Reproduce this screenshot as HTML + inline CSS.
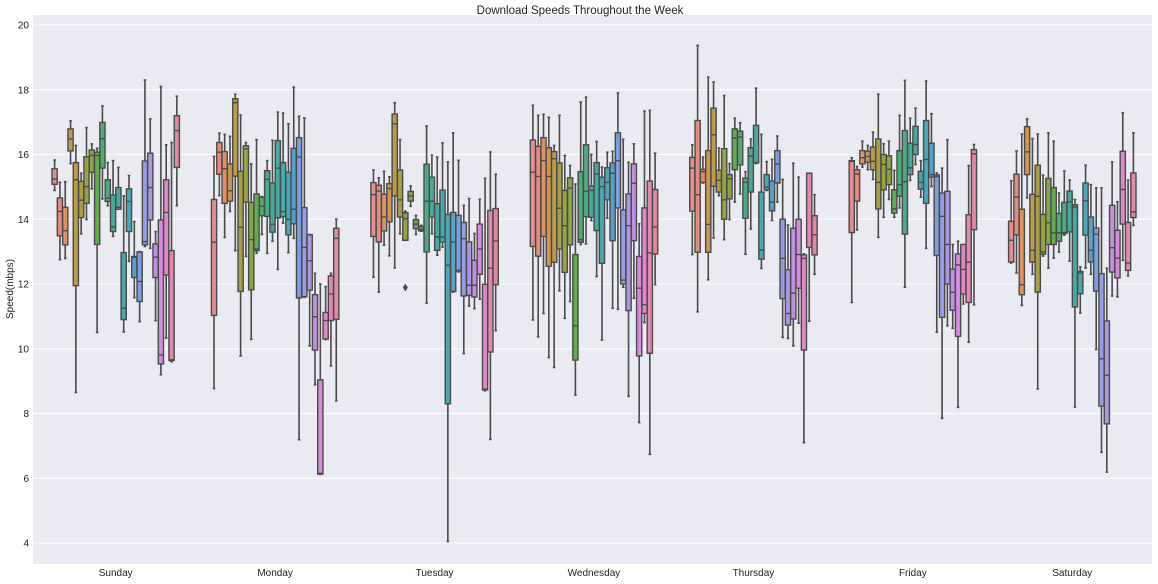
<!DOCTYPE html>
<html><head><meta charset="utf-8"><style>
body{margin:0;background:#fff;}
svg{display:block;font-family:"Liberation Sans",sans-serif;}
</style></head><body>
<svg id="chart" width="1158" height="584" viewBox="0 0 1158 584">
<rect x="33" y="15" width="1119" height="549" fill="#eaeaf2"/>
<g id="grid"></g><g id="boxes"></g><g id="axes"></g>
<text x="580" y="14" text-anchor="middle" font-size="11.5" fill="#222">Download Speeds Throughout the Week</text>
<text transform="translate(13,289) rotate(-90)" text-anchor="middle" font-size="10" fill="#222">Speed(mbps)</text>
</svg>
<script>
const days=["Sunday","Monday","Tuesday","Wednesday","Thursday","Friday","Saturday"];
const yTicks=[4,6,8,10,12,14,16,18,20];
// per day, per hour (24): lower whisker, q1, median, q3, upper whisker
const wlo=[
[14.89,12.75,12.79,15.72,8.65,13.55,13.99,14.94,10.5,14.63,14.42,13.47,14.31,10.52,12.7,11.58,10.84,13.16,13.1,10.87,9.2,10.33,9.6,14.42],
[8.77,14.73,13.44,14.24,13.03,9.78,12.85,10.29,12.95,13.53,12.95,13.32,12.45,13.88,12.97,13.41,7.19,11.59,10.09,8.89,6.12,10.28,9.47,8.39],
[12.21,11.75,13.2,12.87,12.5,13.55,13.35,14.4,13.53,13.63,11.41,13.55,12.89,13.14,4.05,11.75,12.37,9.85,11.32,11.24,11.53,8.7,7.2,10.56],
[10.89,10.37,11.09,9.73,9.42,11.79,10.94,11.46,8.57,13.22,13.24,13.96,12.23,10.27,14.03,11.25,11.22,11.9,8.53,11.56,7.72,10.81,6.74,11.98],
[12.91,11.14,15.12,12.13,13.42,14.73,13.37,13.99,14.53,14.78,12.92,13.7,15.72,12.48,14.89,13.96,14.53,10.35,10.32,10.09,10.79,7.1,10.85,12.3],
[11.43,13.67,15.61,15.53,15.23,13.44,14.06,14.61,14.06,14.35,11.9,15.2,15.69,14.68,13.1,15.01,10.51,7.85,10.71,10.63,8.19,11.38,10.2,11.36],
[12.65,12.34,11.34,14.66,12.3,8.76,12.86,12.49,12.8,12.99,13.51,12.71,8.2,11.1,12.49,12.3,9.98,6.8,6.19,11.63,11.6,12.73,12.25,13.81]];
const q1=[
[15.08,13.49,13.21,16.11,11.95,14.05,14.49,15.45,13.22,15.58,14.55,13.62,14.31,10.9,13.62,12.2,11.46,13.21,13.98,12.2,9.53,12.28,9.64,15.6],
[11.03,15.39,14.49,14.56,15.33,11.77,14.53,11.82,13.03,14.11,14.09,13.6,14.04,14.08,13.52,13.86,11.57,11.61,11.81,9.96,6.13,10.3,10.87,10.91],
[13.47,13.3,13.64,13.92,14.72,14.07,13.35,14.56,13.71,13.64,12.99,14.07,13.04,13.3,8.3,11.77,12.4,11.63,11.65,11.6,12.3,8.73,9.9,11.98],
[13.16,12.86,13.47,12.55,12.67,13.08,12.36,13.21,9.65,13.29,14.08,14.06,13.65,12.64,14.6,13.34,14.35,12.0,11.18,13.34,9.78,11.09,9.86,12.93],
[14.25,12.98,15.14,12.98,15.02,14.84,14.0,14.63,15.53,15.68,14.03,14.84,15.74,12.77,14.91,14.26,15.12,11.55,10.73,10.92,11.87,9.96,13.13,12.9],
[13.59,14.56,15.71,15.76,15.53,14.32,14.91,15.07,14.19,14.71,13.54,15.38,16.0,14.93,14.49,15.3,12.88,10.97,12.0,11.19,10.38,11.69,11.43,13.68],
[12.68,13.52,11.67,15.38,12.68,11.75,12.92,13.22,13.22,13.32,13.56,13.61,11.29,11.7,13.51,12.68,11.78,8.23,7.68,12.37,12.19,13.85,12.42,14.05]];
const med=[
[15.24,14.24,13.65,16.48,15.22,14.59,15.01,15.97,15.97,16.49,14.65,13.76,14.37,11.25,14.55,12.83,12.08,13.31,14.98,12.83,9.81,14.21,9.66,16.74],
[13.29,16.07,15.56,14.88,17.6,13.75,16.17,13.37,13.08,14.4,15.23,13.84,15.58,14.24,14.0,14.31,15.92,13.13,12.72,10.99,6.15,10.87,11.69,13.41],
[14.76,14.87,14.07,14.95,16.95,14.6,14.02,14.72,13.85,13.69,14.56,14.56,13.45,13.45,12.58,13.3,12.42,13.4,11.96,11.96,13.08,8.75,12.49,13.33],
[15.45,15.32,15.81,15.32,15.87,14.34,13.8,14.96,10.71,13.37,14.86,14.89,15.4,15.01,15.14,15.42,15.81,12.12,13.8,15.11,11.87,11.36,12.96,13.76],
[15.58,14.76,15.47,13.84,16.61,15.2,14.6,15.25,16.51,16.54,15.14,15.95,15.75,13.05,14.99,14.53,15.71,12.79,11.09,11.72,12.91,12.79,15.42,13.52],
[15.79,15.4,15.9,15.94,15.79,15.14,15.69,15.54,14.32,15.07,15.16,15.59,16.31,15.14,15.85,15.38,15.32,14.09,13.22,11.74,12.59,12.45,12.67,16.02],
[13.35,14.69,11.98,16.08,13.04,14.71,12.99,13.89,13.58,13.58,13.59,14.54,14.38,12.34,14.57,13.04,13.54,9.69,9.18,13.12,12.8,14.92,12.65,14.23]];
const q3=[
[15.56,14.66,14.37,16.79,15.75,15.17,15.93,16.14,16.07,16.99,15.22,14.75,14.98,12.97,14.94,12.85,12.99,15.8,16.04,13.24,13.98,15.22,13.03,17.2],
[14.61,16.37,16.09,15.71,17.72,15.48,16.27,14.52,14.78,14.68,15.5,15.12,16.43,15.75,15.45,16.19,16.52,14.36,13.52,11.67,9.04,11.12,12.25,13.72],
[15.13,15.05,14.77,15.1,17.25,15.52,14.2,14.86,13.99,13.78,15.7,15.3,14.48,14.9,14.15,14.21,14.12,13.9,13.3,12.73,13.85,11.99,14.27,14.33],
[16.45,16.25,16.52,16.21,16.09,15.74,14.89,15.28,12.91,15.47,16.3,15.03,15.75,15.3,15.59,15.74,16.67,14.29,14.78,15.71,12.85,14.35,15.18,14.92],
[15.91,17.05,15.54,16.12,17.43,15.51,16.18,15.38,16.79,16.72,15.27,16.21,16.9,14.84,15.38,15.18,16.12,14.0,12.44,13.72,14.0,12.9,15.42,14.11],
[15.81,15.53,16.12,16.1,16.23,16.48,16.0,15.96,14.91,16.12,16.74,16.35,16.87,15.48,17.05,16.35,15.37,14.81,14.86,12.46,12.93,13.22,14.14,16.15],
[13.94,15.39,14.31,16.86,14.77,15.67,14.15,15.26,14.98,14.18,14.52,14.87,14.45,12.39,15.12,14.07,13.73,12.32,10.86,14.43,13.66,16.1,13.9,15.43]];
const whi=[
[15.83,15.14,15.16,17.04,16.28,15.42,16.83,16.33,16.19,17.5,15.75,15.81,15.6,14.72,15.35,13.93,13.0,18.3,17.1,13.62,18.1,16.3,16.37,17.8],
[15.94,16.66,16.62,16.56,17.86,17.22,16.37,15.71,16.46,14.7,15.81,16.44,17.31,17.28,16.95,18.08,17.18,17.13,13.53,12.33,12.0,11.92,12.33,14.0],
[15.52,15.28,15.48,15.31,17.6,16.46,14.25,15.03,14.12,13.81,16.88,15.98,15.92,16.36,15.77,16.67,15.82,14.43,14.64,13.56,14.62,15.26,16.08,15.39],
[17.52,17.21,17.24,17.15,16.28,17.21,15.97,15.66,15.09,17.62,17.77,16.0,16.4,15.61,16.07,16.1,17.9,16.47,15.76,16.33,13.86,17.34,17.36,16.04],
[16.3,19.37,15.92,18.39,18.24,16.2,17.82,15.72,17.12,16.98,15.47,16.48,18.05,16.62,15.78,15.85,16.57,15.23,13.82,15.73,15.3,12.93,15.42,14.76],
[15.9,15.63,16.41,16.28,16.69,17.86,16.33,16.41,15.51,17.21,18.29,17.12,17.43,15.81,18.27,17.26,15.43,15.58,16.46,13.22,13.32,13.22,15.66,16.31],
[15.19,16.11,16.63,17.1,16.49,16.63,15.36,16.67,16.41,14.81,15.49,15.21,14.61,12.53,15.67,15.07,14.97,14.97,12.49,15.77,14.54,17.29,15.21,16.67]];
const outDay=[2];const outHour=[6];const outVal=[11.89];
const colors=["#e58d92","#e48c7e","#e09360","#d0974c","#bd9c48","#ab9f45","#9aa343","#86a844","#62ad4d","#4cae6f","#4aac87","#48aa96","#47a9a3","#48a8ad","#4aa6b9","#55a2c9","#7a9edf","#979de4","#ad97e3","#c190e1","#d88ae0","#e186cc","#e189b3","#e18aa1"];
const NS="http://www.w3.org/2000/svg";
const X0=33,X1=1152,Y0=15,Y1=564;
const yS=v=>25+(20-v)*32.375;
const band=(X1-X0-3)/7;
const xDay=d=>X0+3+band*(d+0.5);
const bw=band*0.8/24;
const xBox=(d,h)=>xDay(d)-band*0.4+bw*(h+0.5);
function mk(tag,attrs,parent){const e=document.createElementNS(NS,tag);for(const k in attrs)e.setAttribute(k,attrs[k]);parent.appendChild(e);return e;}
const grid=document.getElementById('grid'),axes=document.getElementById('axes'),boxes=document.getElementById('boxes');
yTicks.forEach(t=>{
 const g=mk('line',{x1:X0,x2:X1,y1:yS(t),y2:yS(t),stroke:'#fff','stroke-width':1},grid);
 
 
 const tx=mk('text',{x:29,y:yS(t)+3.5,'text-anchor':'end','font-size':10,fill:'#222'},axes);
 tx.textContent=t;
 
 
});
days.forEach((d,i)=>{
 const tx=mk('text',{x:xDay(i),y:576,'text-anchor':'middle','font-size':10,fill:'#222'},axes);
 tx.textContent=d;
 
 
});
const gc='#4a4a4a';
for(let d=0;d<7;d++){for(let h=0;h<24;h++){
 const g=mk('g',{},boxes);
 
 
 const cx=xBox(d,h),w=bw*0.98;
 const a=yS(whi[d][h]),b=yS(q3[d][h]),c=yS(q1[d][h]),e=yS(wlo[d][h]),m=yS(med[d][h]);
 mk('line',{x1:cx,x2:cx,y1:a,y2:b,stroke:gc,'stroke-width':1.6},g);
 mk('line',{x1:cx,x2:cx,y1:c,y2:e,stroke:gc,'stroke-width':1.6},g);
 mk('line',{x1:cx-w/4,x2:cx+w/4,y1:a,y2:a,stroke:gc,'stroke-width':1.6},g);
 mk('line',{x1:cx-w/4,x2:cx+w/4,y1:e,y2:e,stroke:gc,'stroke-width':1.6},g);
 mk('rect',{x:cx-w/2,y:b,width:w,height:Math.max(c-b,0.5),fill:colors[h],stroke:gc,'stroke-width':1.4},g);
 mk('line',{x1:cx-w/2,x2:cx+w/2,y1:m,y2:m,stroke:gc,'stroke-width':1.4},g);
}}
outVal.forEach((v,i)=>{
 const o=mk('path',{d:`M${xBox(outDay[i],outHour[i])} ${yS(v)-4} l2.5 4 l-2.5 4 l-2.5 -4 z`,fill:gc},boxes);
 
 
});
</script>
</body></html>
